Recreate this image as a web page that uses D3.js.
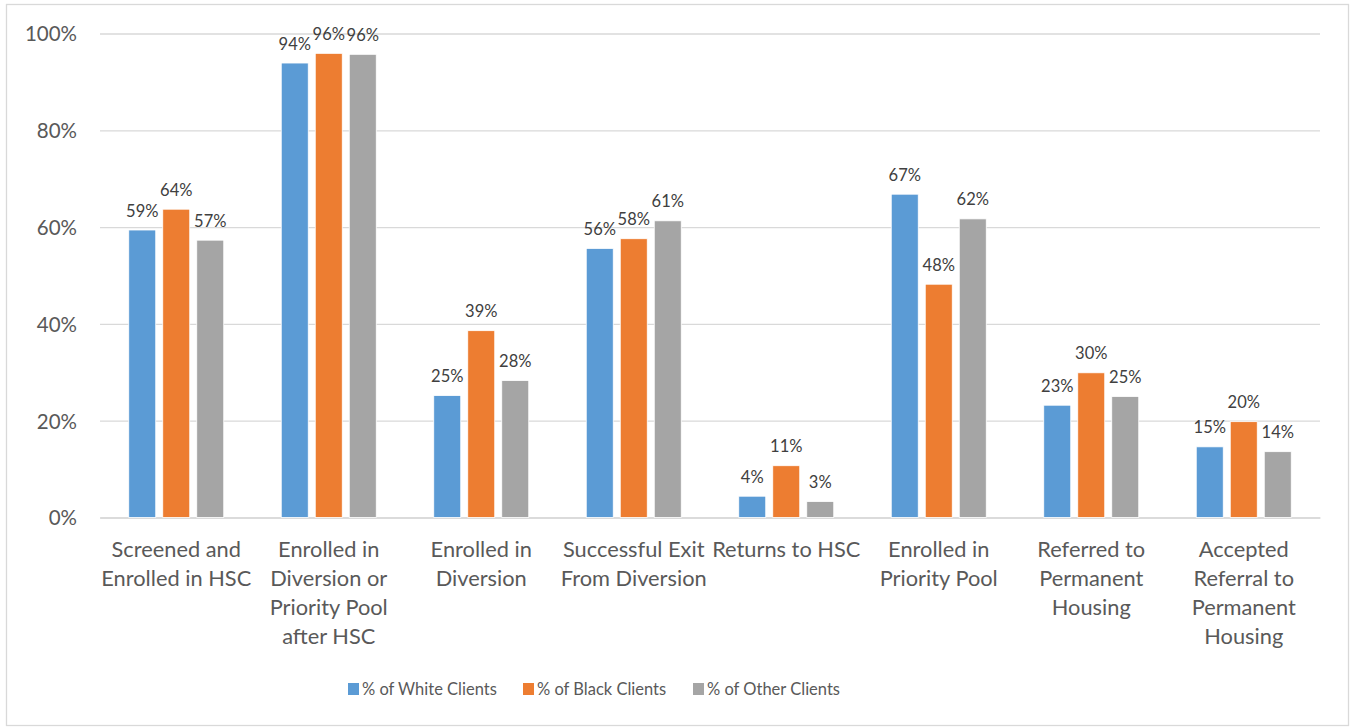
<!DOCTYPE html>
<html>
<head>
<meta charset="utf-8">
<script src="https://cdn.jsdelivr.net/npm/d3@7"></script>
<style>
  html, body { margin: 0; padding: 0; background: #fff; }
  svg { display: block; font-family: Lato, "Open Sans", sans-serif; }
</style>
</head>
<body>
<svg id="chart" width="1352" height="728"></svg>
<script>
// Program stage outcomes by client race
const categories = [
  ["Screened and", "Enrolled in HSC"],
  ["Enrolled in", "Diversion or", "Priority Pool", "after HSC"],
  ["Enrolled in", "Diversion"],
  ["Successful Exit", "From Diversion"],
  ["Returns to HSC"],
  ["Enrolled in", "Priority Pool"],
  ["Referred to", "Permanent", "Housing"],
  ["Accepted", "Referral to", "Permanent", "Housing"]
];
const seriesNames = ["% of White Clients", "% of Black Clients", "% of Other Clients"];
const whiteValues = [0.594, 0.939, 0.252, 0.556, 0.044, 0.668, 0.232, 0.146];
const blackValues = [0.637, 0.959, 0.386, 0.576, 0.107, 0.482, 0.299, 0.198];
const otherValues = [0.573, 0.957, 0.283, 0.613, 0.033, 0.617, 0.250, 0.136];
const yTicks = [0, 0.2, 0.4, 0.6, 0.8, 1.0];
const colors = ["#5b9bd5", "#ed7d31", "#a5a5a5"];

const seriesValues = [whiteValues, blackValues, otherValues];
const W = 1352, H = 728;
const plot = { left: 100, right: 1320, top: 33.5, bottom: 517.5 };

const svg = d3.select("#chart");
svg.append("rect").attr("width", W).attr("height", H).attr("fill", "#fff");
svg.append("rect")
  .attr("x", 6.5).attr("y", 4.5).attr("width", 1342).attr("height", 721)
  .attr("fill", "none").attr("stroke", "#d9d9d9").attr("stroke-width", 1.3);

const catKeys = categories.map(c => c.join(" "));
const x0 = d3.scaleBand().domain(catKeys).range([plot.left, plot.right])
  .paddingInner(0.377).paddingOuter(0.1885);
const x1 = d3.scaleBand().domain(seriesNames).range([0, x0.bandwidth()]).paddingInner(0.206);
const y = d3.scaleLinear().domain([0, 1]).range([plot.bottom, plot.top]);

// horizontal gridlines + y tick labels
const yAxis = d3.axisLeft(y).tickValues(yTicks).tickFormat(d3.format(".0%"))
  .tickSize(-(plot.right - plot.left)).tickPadding(23);
const gy = svg.append("g").attr("transform", `translate(${plot.left},0)`).call(yAxis);
gy.select(".domain").remove();
gy.selectAll(".tick line").attr("stroke", "#d9d9d9").attr("stroke-width", 1.3);
gy.selectAll(".tick text").attr("fill", "#595959").attr("font-size", 20.5)
  .attr("font-family", "Lato, sans-serif").attr("dy", "0.36em");

// category axis line
const xAxis = d3.axisBottom(x0).tickSize(0).tickFormat("");
const gx = svg.append("g").attr("transform", `translate(0,${plot.bottom})`).call(xAxis);
gx.select(".domain").attr("stroke", "#d9d9d9").attr("stroke-width", 1.6);

// multi-line category labels
const catLabels = svg.append("g").selectAll("text").data(categories).join("text")
  .attr("text-anchor", "middle").attr("fill", "#595959").attr("font-size", 21.8)
  .attr("x", (d, i) => x0(catKeys[i]) + x0.bandwidth() / 2)
  .attr("y", 557);
catLabels.selectAll("tspan").data(d => d).join("tspan")
  .attr("x", function () { return this.parentNode.getAttribute("x"); })
  .attr("dy", (d, i) => i === 0 ? 0 : 29)
  .text(d => d);

// bars with value labels
const groups = svg.append("g").selectAll("g").data(catKeys).join("g")
  .attr("transform", d => `translate(${x0(d)},0)`);
groups.each(function (k, ci) {
  const g = d3.select(this);
  const data = seriesNames.map((s, si) => ({ s, si, v: seriesValues[si][ci] }));
  g.selectAll("rect").data(data).join("rect")
    .attr("x", d => x1(d.s)).attr("width", x1.bandwidth())
    .attr("y", d => y(d.v)).attr("height", d => y(0) - y(d.v))
    .attr("fill", d => colors[d.si]).attr("stroke", "#fff").attr("stroke-width", 0.8);
  g.selectAll("text").data(data).join("text")
    .attr("x", d => x1(d.s) + x1.bandwidth() / 2)
    .attr("y", d => y(d.v) - 13.5)
    .attr("text-anchor", "middle").attr("fill", "#404040").attr("font-size", 16.5)
    .text(d => d3.format(".0%")(d.v));
});

// legend
const legendX = [348, 523, 693];
const legend = svg.append("g").selectAll("g").data(seriesNames).join("g")
  .attr("transform", (d, i) => `translate(${legendX[i]},689)`);
legend.append("rect").attr("x", 0).attr("y", -6).attr("width", 11).attr("height", 12)
  .attr("fill", (d, i) => colors[i]);
legend.append("text").attr("x", 14).attr("y", 0).attr("dy", "0.36em")
  .attr("fill", "#595959").attr("font-size", 16.5).text(d => d);
</script>
</body>
</html>
